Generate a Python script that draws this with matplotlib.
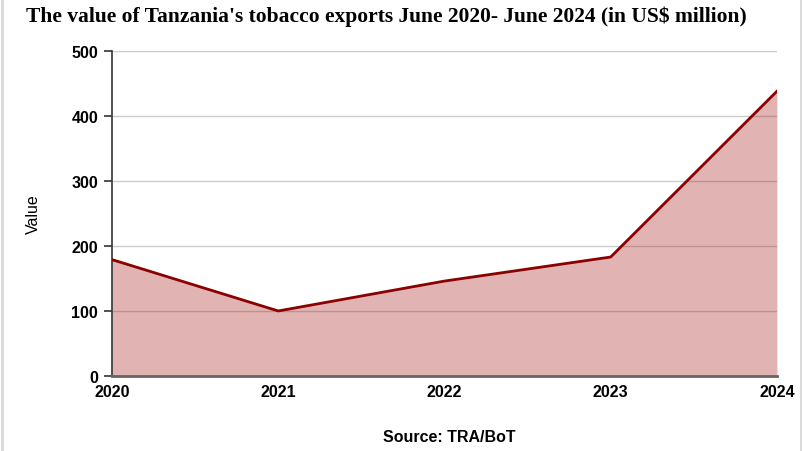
import numpy as np
import matplotlib
matplotlib.use("Agg")
import matplotlib.pyplot as plt
from matplotlib.lines import Line2D

years = [2020, 2021, 2022, 2023, 2024]
values = [179, 100, 146, 183, 438]
yticks = [0, 100, 200, 300, 400, 500]

plt.rcParams["font.family"] = ["Liberation Sans", "DejaVu Sans"]

fig = plt.figure(figsize=(8.03, 4.52), dpi=100)
ax = fig.add_axes([0.1395, 0.166, 0.828, 0.719])

ax.fill_between(years, values, 0, color="#a31515", alpha=0.32, lw=0, zorder=2)
ax.plot(years, values, color="#8b0000", lw=2, zorder=3)

ax.set_xlim(years[0], years[-1])
ax.set_ylim(0, 500)
ax.set_xticks(years)
ax.set_yticks(yticks)
ax.tick_params(axis="x", length=0, pad=6, labelsize=11.5)
ax.tick_params(axis="y", length=6, width=1.2, color="#333333", pad=4, labelsize=11.5)
for lab in ax.get_xticklabels() + ax.get_yticklabels():
    lab.set_fontweight("bold")
ax.grid(axis="y", color="#cccccc", lw=1, zorder=1)
ax.set_axisbelow(True)
for s in ["top", "right"]:
    ax.spines[s].set_visible(False)
ax.spines["left"].set_color("#333333")
ax.spines["left"].set_linewidth(1.2)
ax.spines["bottom"].set_color("#666666")
ax.spines["bottom"].set_linewidth(2)
ax.set_ylabel("Value", fontsize=11.5, labelpad=22)

fig.text(0.033, 0.962, "The value of Tanzania's tobacco exports June 2020- June 2024 (in US$ million)",
         fontsize=15.5, fontweight="bold", family="Liberation Serif", va="center", ha="left")
fig.text(0.56, 0.033, "Source: TRA/BoT", fontsize=11.5, fontweight="bold", ha="center", va="center")

fig.add_artist(Line2D([0.002, 0.002], [0, 1], color="#d8d8d8", lw=2, transform=fig.transFigure))
fig.add_artist(Line2D([0.997, 0.997], [0, 1], color="#d8d8d8", lw=2, transform=fig.transFigure))

fig.savefig("out.png", dpi=100)
